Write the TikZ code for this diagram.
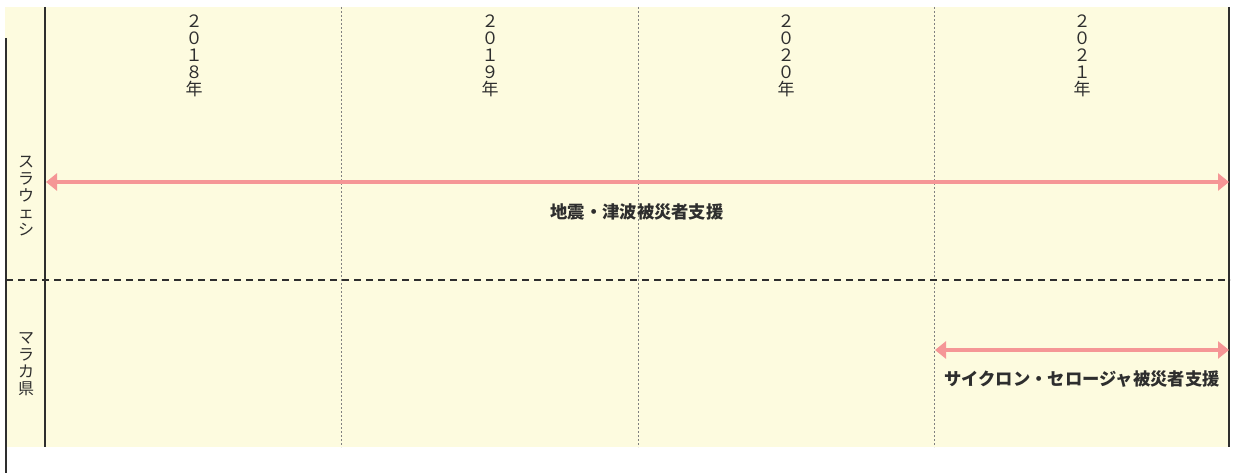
\documentclass[tikz,border=0pt]{standalone}
\usepackage{fontspec}
\newfontfamily\jpfont{Noto Sans CJK JP}
\usetikzlibrary{arrows.meta}
\definecolor{cream}{HTML}{FDFBDF}
\definecolor{pinkarrow}{HTML}{F59696}
\definecolor{ink}{HTML}{2E2E2E}
\tikzset{
  year/.style={font=\jpfont\fontsize{17}{16.8}\selectfont, align=center, anchor=north, inner sep=0pt, text=ink},
  region/.style={font=\jpfont\fontsize{16}{16.8}\selectfont, align=center, inner sep=0pt, text=ink},
  task/.style={font=\jpfont\bfseries\fontsize{17.3}{18}\selectfont, inner sep=0pt, text=ink},
  span/.style={pinkarrow, line width=4pt, {Triangle[length=11pt,width=17pt]}-{Triangle[length=11pt,width=17pt]}, shorten <=1pt, shorten >=0pt},
  frame/.style={ink, line width=2pt},
  yeargrid/.style={gray, line width=1pt, dash pattern=on 2pt off 2pt},
  rowgrid/.style={ink, line width=2pt, dash pattern=on 7pt off 5pt}
}
\begin{document}
\begin{tikzpicture}[x=1pt, y=-1pt]
\useasboundingbox (0,0) rectangle (1237,473);
\fill[cream] (5,7) rectangle (1230,447);

\coordinate (T0) at (45,7);
\coordinate (B0) at (45,447);
\coordinate (T1) at (341,7);
\coordinate (B1) at (341,447);
\coordinate (T2) at (638,7);
\coordinate (B2) at (638,447);
\coordinate (T3) at (934,7);
\coordinate (B3) at (934,447);
\coordinate (T4) at (1229,7);
\coordinate (B4) at (1229,447);
\coordinate (L1) at (6,38);
\coordinate (L2) at (6,473);
\coordinate (D1) at (6,280);
\coordinate (D2) at (1230,280);

\draw[yeargrid] (T1) -- (B1);
\draw[yeargrid] (T2) -- (B2);
\draw[yeargrid] (T3) -- (B3);
\draw[rowgrid] (D1) -- (D2);
\draw[frame] (T0) -- (B0);
\draw[frame] (T4) -- (B4);
\draw[frame] (L1) -- (L2);

\node[year] (Y18) at (194,15) {２\\０\\１\\８\\年};
\node[year] (Y19) at (490,15) {２\\０\\１\\９\\年};
\node[year] (Y20) at (786,15) {２\\０\\２\\０\\年};
\node[year] (Y21) at (1082,15) {２\\０\\２\\１\\年};

\node[region] (R1) at (26,196) {ス\\ラ\\ウ\\ェ\\シ};
\node[region] (R2) at (26,364) {マ\\ラ\\カ\\県};

\coordinate (A1) at (45,182);
\coordinate (A2) at (1229,182);
\coordinate (C1) at (934,350);
\coordinate (C2) at (1229,350);

\draw[span] (A1) -- (A2);
\draw[span] (C1) -- (C2);

\node[task] (S1) at (637,212) {地震・津波被災者支援};
\node[task] (S2) at (1082,379) {サイクロン・セロージャ被災者支援};
\end{tikzpicture}
\end{document}
